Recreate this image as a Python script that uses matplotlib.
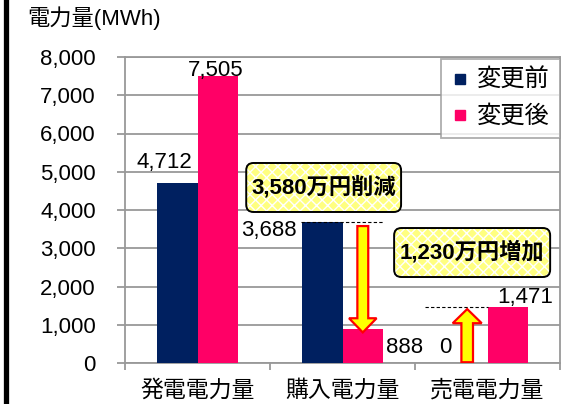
import matplotlib
matplotlib.use("Agg")
import matplotlib.pyplot as plt
from matplotlib.patches import FancyBboxPatch, FancyArrow
from matplotlib.lines import Line2D
import numpy as np

plt.rcParams['font.family'] = ['Liberation Sans', 'Noto Sans CJK JP', 'DejaVu Sans']

categories = ['発電電力量', '購入電力量', '売電電力量']
before = [4712, 3688, 0]
after = [7505, 888, 1471]
series_names = ['変更前', '変更後']
yticks = [0, 1000, 2000, 3000, 4000, 5000, 6000, 7000, 8000]
before_labels = ['4,712', '3,688', '0']
after_labels = ['7,505', '888', '1,471']
note_reduce = '3,580万円削減'
note_increase = '1,230万円増加'

NAVY = '#002060'
PINK = '#ff0066'
GRID = '#999999'

W, H = 569, 404
fig = plt.figure(figsize=(W / 100, H / 100), dpi=100)
ax = fig.add_axes([125 / W, 1 - 363 / H, (560 - 125) / W, (363 - 57) / H])

x = np.arange(len(categories))
bw = 0.28
ax.bar(x - bw / 2, before, bw, color=NAVY, zorder=3)
ax.bar(x + bw / 2, after, bw, color=PINK, zorder=3)

ax.set_xlim(-0.5, 2.5)
ax.set_ylim(0, 8000)
ax.set_yticks(yticks)
ax.set_yticklabels([f'{v:,}' for v in yticks], fontsize=16)
ax.yaxis.grid(True, color=GRID, lw=1.3, zorder=0)
ax.set_axisbelow(True)
ax.tick_params(axis='y', length=6, width=1.3, color=GRID, pad=15)
ax.set_xticks(x)
ax.set_xticklabels(categories, fontsize=16.5)
ax.set_xticks([-0.5, 0.5, 1.5, 2.5], minor=True)
ax.tick_params(axis='x', which='major', length=0, pad=11)
ax.tick_params(axis='x', which='minor', length=5, width=1.3, color=GRID)
for s in ax.spines.values():
    s.set_color(GRID)
    s.set_linewidth(1.3)

# data labels
lab_pos_before = [(-0.23, 5229), (0.49, 3477), (1.71, 418)]
lab_pos_after = [(0.123, 7660), (1.425, 418), (2.26, 1700)]
for (px, py), t in zip(lab_pos_before, before_labels):
    ax.text(px, py, t, fontsize=16, ha='center', va='center', zorder=5)
for (px, py), t in zip(lab_pos_after, after_labels):
    ax.text(px, py, t, fontsize=16, ha='center', va='center', zorder=5)

# dashed reference lines
ax.plot([0.712, 1.281], [before[1], before[1]], ls=(0, (3, 2)), color='black', lw=0.8, zorder=4)
ax.plot([1.568, 2.0], [after[2], after[2]], ls=(0, (3, 2)), color='black', lw=0.8, zorder=4)

# arrows
ax.add_patch(FancyArrow(1 + bw / 2, 3580, 0, 800 - 3580, width=0.075, head_width=0.19,
                        head_length=370, length_includes_head=True,
                        facecolor='#ffff00', edgecolor='#ff0000', lw=1.6, zorder=6))
ax.add_patch(FancyArrow(2 - bw / 2, 20, 0, 1410 - 20, width=0.08, head_width=0.20,
                        head_length=370, length_includes_head=True,
                        facecolor='#ffff00', edgecolor='#ff0000', lw=1.6, zorder=6))

# note boxes
aspect = 146 / 0.03825
def note(x0, x1, y0, y1, text):
    kw = dict(boxstyle='round,pad=0,rounding_size=0.05', mutation_aspect=aspect, zorder=7)
    ax.add_patch(FancyBboxPatch((x0, y0), x1 - x0, y1 - y0, facecolor='#ffff80', edgecolor='none', **kw))
    ax.add_patch(FancyBboxPatch((x0, y0), x1 - x0, y1 - y0, fill=False, edgecolor='white',
                                hatch='xxx', lw=0, **kw))
    ax.add_patch(FancyBboxPatch((x0, y0), x1 - x0, y1 - y0, fill=False, edgecolor='black',
                                lw=1.4, **kw))
    ax.text((x0 + x1) / 2, (y0 + y1) / 2, text, fontsize=16, fontweight='bold',
            ha='center', va='center', zorder=8)

note(0.336, 1.404, 3948, 5229, note_reduce)
note(1.356, 2.432, 2248, 3529, note_increase)

# legend
handles = [Line2D([], [], ls='none', marker='s', markersize=7.5, color=NAVY),
           Line2D([], [], ls='none', marker='s', markersize=7.5, color=PINK)]
leg = ax.legend(handles, series_names, loc='upper right', bbox_to_anchor=(1.0, 1 - 2 / 306),
                fontsize=17.5, frameon=True, fancybox=False, handlelength=0.7,
                handletextpad=0.35, borderpad=0.42, labelspacing=0.55, borderaxespad=0)
leg.get_frame().set_edgecolor(GRID)
leg.get_frame().set_linewidth(1.3)
leg.set_zorder(10)

fig.text(27 / W, 1 - 18 / H, '電力量(MWh)', fontsize=16, ha='left', va='center')
fig.add_artist(Line2D([5.5 / W, 5.5 / W], [0, 1], color='black', lw=3.8, transform=fig.transFigure))

fig.savefig('out.png', dpi=100)
